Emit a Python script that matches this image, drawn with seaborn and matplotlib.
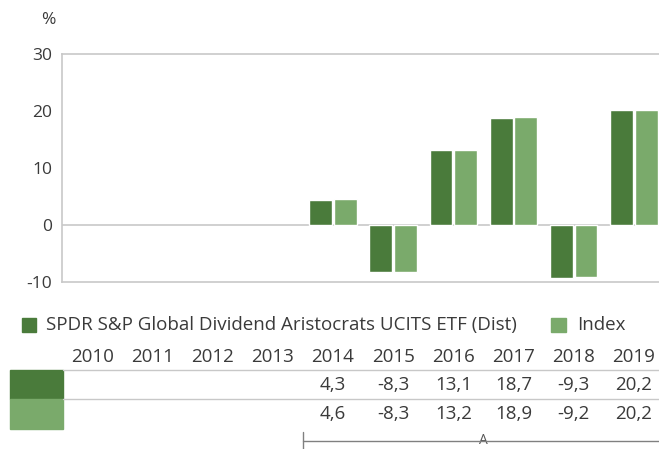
import numpy as np
import pandas as pd
import seaborn as sb
import matplotlib.pyplot as plt
from matplotlib.lines import Line2D
from matplotlib.patches import Rectangle
from matplotlib.transforms import blended_transform_factory

years = ["2010", "2011", "2012", "2013", "2014", "2015", "2016", "2017", "2018", "2019"]
fund_name = "SPDR S&P Global Dividend Aristocrats UCITS ETF (Dist)"
fund = [None, None, None, None, 4.3, -8.3, 13.1, 18.7, -9.3, 20.2]
index = [None, None, None, None, 4.6, -8.3, 13.2, 18.9, -9.2, 20.2]

dark = "#4a7b3b"
light = "#7aaa6b"
txt = "#3a3a3a"
grid = "#c8c8c8"

sb.set_style("white")
plt.rcParams["font.family"] = ["Open Sans", "DejaVu Sans"]
plt.rcParams["axes.unicode_minus"] = False

rows = []
for y, f, i in zip(years, fund, index):
    if f is not None:
        rows.append({"Year": y, "Series": fund_name, "Value": f})
    if i is not None:
        rows.append({"Year": y, "Series": "Index", "Value": i})
df = pd.DataFrame(rows)

fig = plt.figure(figsize=(6.59, 4.49), dpi=100)
W, H = 659, 449
ax = fig.add_axes([62 / W, 167 / H, 602 / W, 228 / H])

sb.barplot(data=df, x="Year", y="Value", hue="Series", order=years,
           hue_order=[fund_name, "Index"], palette=[dark, light],
           saturation=1, width=0.82, gap=0.08, legend=False, ax=ax, zorder=2)

ax.set_xlim(-0.5, 9.5)
ax.set_ylim(-10, 30)
ax.set_yticks([-10, 0, 10, 20, 30])
ax.set_xticks([])
ax.set_xlabel("")
ax.set_ylabel("")
ax.axhline(0, color=grid, lw=1.2, zorder=1)
for s in ["left", "top", "bottom"]:
    ax.spines[s].set_color(grid)
    ax.spines[s].set_linewidth(1.2)
ax.spines["right"].set_visible(False)
ax.tick_params(axis="y", length=4, color=grid, labelsize=12.5, labelcolor=txt, pad=3)
ax.text(48 / W, 1 - 20 / H, "%", transform=fig.transFigure, fontsize=12.5,
        color=txt, ha="center", va="center")

# legend
fig.add_artist(Rectangle((22 / W, 1 - 332 / H), 14 / W, 14 / H,
                         transform=fig.transFigure, color=dark))
fig.text(46 / W, 1 - 325 / H, fund_name, fontsize=13.5, color=txt, va="center")
fig.add_artist(Rectangle((551 / W, 1 - 332 / H), 15 / W, 14 / H,
                         transform=fig.transFigure, color=light))
fig.text(577 / W, 1 - 325 / H, "Index", fontsize=13.5, color=txt, va="center")

# table
tr = blended_transform_factory(ax.transData, fig.transFigure)
for k, y in enumerate(years):
    ax.text(k, 1 - 357 / H, y, transform=tr, ha="center", va="center",
            fontsize=13.5, color=txt, clip_on=False)
    for vals, ypix in [(fund, 385), (index, 414)]:
        if vals[k] is not None:
            s = f"{vals[k]:.1f}".replace(".", ",")
            ax.text(k, 1 - ypix / H, s, transform=tr, ha="center", va="center",
                    fontsize=13.5, color=txt, clip_on=False)

for ypix in [370, 399]:
    fig.add_artist(Line2D([63 / W, 1], [1 - ypix / H] * 2, color=grid, lw=1,
                          transform=fig.transFigure))
fig.add_artist(Rectangle((10 / W, 1 - 399 / H), 53 / W, 29 / H,
                         transform=fig.transFigure, color=dark))
fig.add_artist(Rectangle((10 / W, 1 - 429 / H), 53 / W, 30 / H,
                         transform=fig.transFigure, color=light))

# period bracket
fig.add_artist(Line2D([3.5, 9.6], [1 - 441 / H] * 2, color="#808080", lw=1,
                      transform=tr, clip_on=False))
fig.add_artist(Line2D([3.5, 3.5], [1 - 432 / H, 1 - 449 / H], color="#808080",
                      lw=1, transform=tr, clip_on=False))
ax.text(6.5, 1 - 441 / H, "A", transform=tr, ha="center", va="center",
        fontsize=10, color="#555555", clip_on=False,
        bbox=dict(facecolor="white", edgecolor="none", pad=1))

plt.savefig("out.png", dpi=100)
